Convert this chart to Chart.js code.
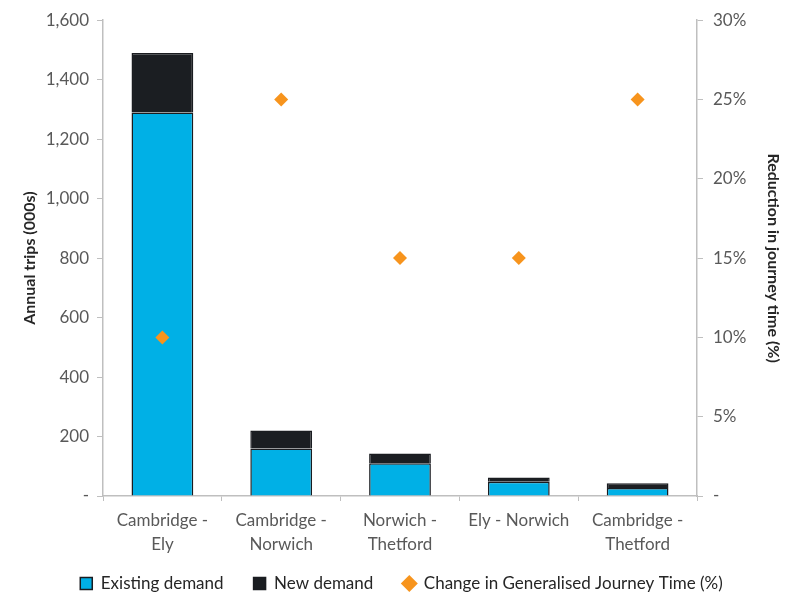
<!DOCTYPE html>
<html>
<head>
<meta charset="utf-8">
<script src="https://cdn.jsdelivr.net/npm/chart.js@4"></script>
<style>
  html, body { margin: 0; padding: 0; background: #fff; }
  #wrap { width: 787px; height: 594px; }
</style>
</head>
<body>
<div id="wrap"><canvas id="tripsChart" width="787" height="594"></canvas></div>
<script>
const routes = [['Cambridge -', 'Ely'], ['Cambridge -', 'Norwich'], ['Norwich -', 'Thetford'], 'Ely - Norwich', ['Cambridge -', 'Thetford']];
const existingDemand = [1290, 160, 110, 48, 27];
const newDemand = [200, 60, 33, 14, 16];
const journeyTimeChange = [10, 25, 15, 15, 25];

const FONT = 'Lato, "Open Sans", sans-serif';
const tickGrey = '#595959';
const axisGrey = '#bfbfbf';

// legend keeps wide item spacing but only takes a thin bottom strip
const legendStrip = {
  id: 'legendStrip',
  beforeInit(chart) {
    const fit = chart.legend.fit;
    chart.legend.fit = function () {
      fit.call(this);
      this.height = 36;
    };
  },
  beforeDraw(chart) {
    chart.legend.top = 545;
    chart.legend.bottom = 594;
  }
};

const ctx = document.getElementById('tripsChart').getContext('2d');
window.__tripsChart = new Chart(ctx, {
  type: 'bar',
  data: {
    labels: routes,
    datasets: [{
      label: 'Existing demand',
      data: existingDemand,
      backgroundColor: '#00b0e6',
      borderColor: '#1a1c20',
      borderWidth: 1.5,
      pointStyle: 'rect',
      stack: 'trips',
      order: 2
    }, {
      label: 'New demand',
      data: newDemand,
      backgroundColor: '#1b1e22',
      borderColor: '#1a1c20',
      borderWidth: 1.5,
      pointStyle: 'rect',
      stack: 'trips',
      order: 2
    }, {
      type: 'line',
      label: 'Change in Generalised Journey Time (%)',
      data: journeyTimeChange,
      yAxisID: 'y1',
      showLine: false,
      pointStyle: 'rectRot',
      pointRadius: 7,
      pointHoverRadius: 7,
      backgroundColor: '#f7941d',
      borderColor: '#f7941d',
      borderWidth: 0,
      order: 0
    }]
  },
  plugins: [legendStrip],
  options: {
    responsive: false,
    animation: false,
    layout: { padding: { top: 13, left: 20, right: 4, bottom: 0 } },
    datasets: { bar: { categoryPercentage: 1, barPercentage: 0.52 } },
    plugins: {
      tooltip: { enabled: false },
      legend: {
        position: 'bottom',
        labels: {
          usePointStyle: true,
          boxWidth: 12,
          boxHeight: 12,
          padding: 30,
          color: '#262626',
          font: { family: FONT, size: 17 },
          sort: (a, b) => a.datasetIndex - b.datasetIndex
        }
      }
    },
    scales: {
      x: {
        stacked: true,
        grid: { offset: true, drawOnChartArea: false, color: axisGrey, tickLength: 5 },
        border: { color: axisGrey, width: 1.5 },
        ticks: { color: tickGrey, font: { family: FONT, size: 17, lineHeight: 1.4 }, maxRotation: 0, padding: 8 },
        afterFit: s => { s.height = 62; }
      },
      y: {
        stacked: true,
        min: 0,
        max: 1600,
        grid: { drawOnChartArea: false, color: axisGrey, tickLength: 6 },
        border: { color: axisGrey, width: 1.5 },
        ticks: {
          stepSize: 200,
          color: tickGrey,
          font: { family: FONT, size: 17 },
          padding: 8,
          callback: v => v === 0 ? '-' : v.toLocaleString('en-US')
        },
        title: {
          display: true,
          text: 'Annual trips (000s)',
          color: '#262626',
          font: { family: FONT, size: 16, weight: 'bold' },
          padding: 0
        },
        afterFit: s => { s.width = 83; }
      },
      y1: {
        position: 'right',
        min: 0,
        max: 30,
        grid: { drawOnChartArea: false, color: axisGrey, tickLength: 6 },
        border: { color: axisGrey, width: 1.5 },
        ticks: {
          stepSize: 5,
          color: tickGrey,
          font: { family: FONT, size: 17 },
          padding: 10,
          callback: v => v === 0 ? '-' : v + '%'
        },
        title: {
          display: true,
          text: 'Reduction in journey time (%)',
          color: '#262626',
          font: { family: FONT, size: 16, weight: 'bold' },
          padding: 0
        },
        afterFit: s => { s.width = 86; }
      }
    }
  }
});
</script>
</body>
</html>
